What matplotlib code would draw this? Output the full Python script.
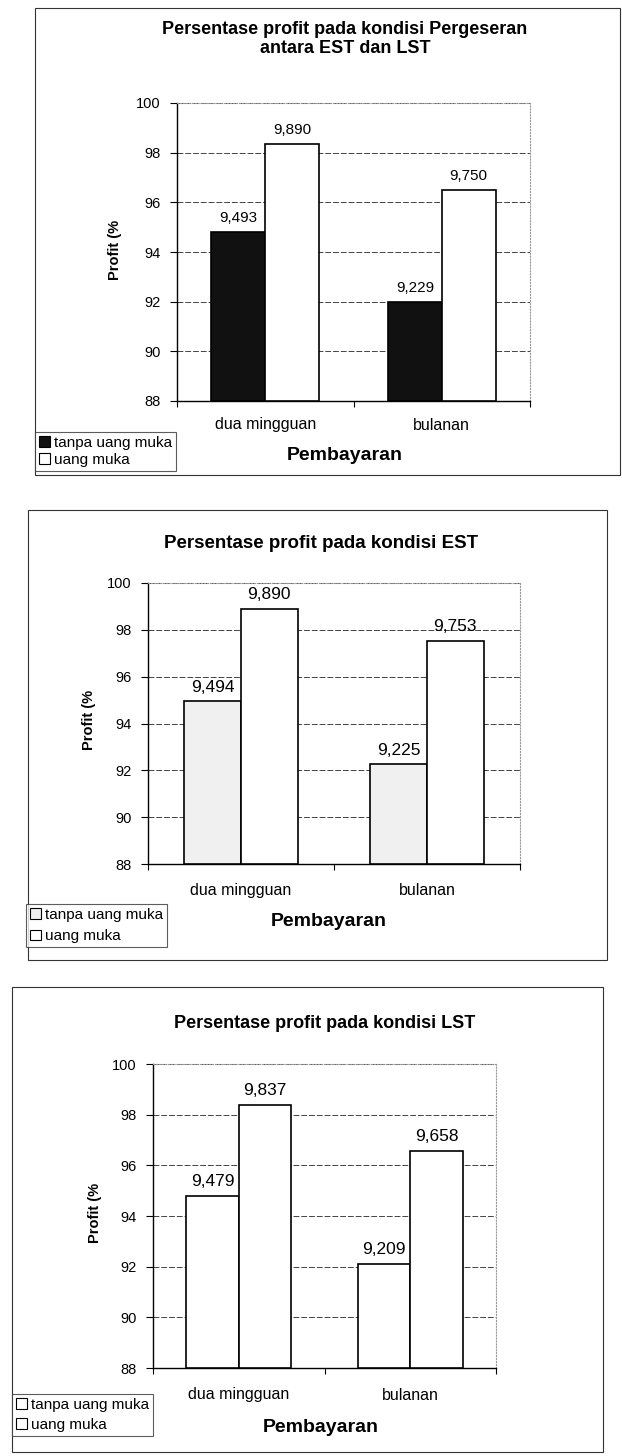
import matplotlib
matplotlib.use('Agg')
import matplotlib.pyplot as plt
from matplotlib.patches import Rectangle, Patch

plt.rcParams['font.family'] = ['Liberation Sans', 'DejaVu Sans']

categories = ['dua mingguan', 'bulanan']
series_names = ['tanpa uang muka', 'uang muka']
yticks = [88, 90, 92, 94, 96, 98, 100]

titles = ['Persentase profit pada kondisi Pergeseran\nantara EST dan LST',
          'Persentase profit pada kondisi EST',
          'Persentase profit pada kondisi LST']

# bar heights (%) read against the axis
pergeseran_tanpa = [94.8, 92.0]
pergeseran_muka = [98.35, 96.5]
est_tanpa = [94.94, 92.25]
est_muka = [98.90, 97.53]
lst_tanpa = [94.79, 92.09]
lst_muka = [98.37, 96.58]

# data labels as printed on the chart
pergeseran_lbl_tanpa = ['9,493', '9,229']
pergeseran_lbl_muka = ['9,890', '9,750']
est_lbl_tanpa = ['9,494', '9,225']
est_lbl_muka = ['9,890', '9,753']
lst_lbl_tanpa = ['9,479', '9,209']
lst_lbl_muka = ['9,837', '9,658']

W, H = 622, 1456


def fbox(x0, y0, x1, y1):
    # pixel box (top-left origin) -> figure fraction
    return [x0 / W, 1 - y1 / H, (x1 - x0) / W, (y1 - y0) / H]


def fx(x):
    return x / W


def fy(y):
    return 1 - y / H


fig = plt.figure(figsize=(W / 100, H / 100), dpi=100)

charts = [
    dict(title=titles[0], a=pergeseran_tanpa, b=pergeseran_muka,
         la=pergeseran_lbl_tanpa, lb=pergeseran_lbl_muka, color_a='#111111',
         frame=(35, 8, 620, 475), axes=(177, 103, 530, 401), title_y=39, title_x=345,
         ylab=(115, 250), cat_y=425, xlab=(345, 455), leg=(35, 432), fs=11, tfs=13,
         lsp=0.2),
    dict(title=titles[1], a=est_tanpa, b=est_muka,
         la=est_lbl_tanpa, lb=est_lbl_muka, color_a='#f0f0f0',
         frame=(28, 510, 607, 960), axes=(148, 583, 520, 864), title_y=543, title_x=321,
         ylab=(89, 720), cat_y=890, xlab=(329, 922), leg=(26, 904), fs=12.5, tfs=13.5,
         lsp=0.5),
    dict(title=titles[2], a=lst_tanpa, b=lst_muka,
         la=lst_lbl_tanpa, lb=lst_lbl_muka, color_a='white',
         frame=(12, 987, 603, 1452), axes=(153, 1064, 496, 1368), title_y=1023, title_x=325,
         ylab=(95, 1213), cat_y=1395, xlab=(321, 1427), leg=(12, 1394), fs=12.5, tfs=13,
         lsp=0.4),
]

x = [0, 1]
bw = 0.305

for c in charts:
    fr = c['frame']
    fig.patches.append(Rectangle((fx(fr[0]), fy(fr[3])), (fr[2] - fr[0]) / W, (fr[3] - fr[1]) / H,
                                 transform=fig.transFigure, fill=False, edgecolor='#333333',
                                 linewidth=0.8, zorder=0))

    ax = fig.add_axes(fbox(*c['axes']))
    ax.set_facecolor('none')
    ax.bar([i - bw / 2 for i in x], [v - 88 for v in c['a']], bw, bottom=88,
           color=c['color_a'], edgecolor='black', linewidth=1.2, zorder=3)
    ax.bar([i + bw / 2 for i in x], [v - 88 for v in c['b']], bw, bottom=88,
           color='white', edgecolor='black', linewidth=1.2, zorder=3)
    for i in x:
        ax.annotate(c['la'][i], (i - bw / 2, c['a'][i]), xytext=(0, 5), textcoords='offset points',
                    ha='center', va='bottom', fontsize=c['fs'], zorder=4)
        ax.annotate(c['lb'][i], (i + bw / 2, c['b'][i]), xytext=(0, 5), textcoords='offset points',
                    ha='center', va='bottom', fontsize=c['fs'], zorder=4)

    ax.set_xlim(-0.5, 1.5)
    ax.set_ylim(88, 100)
    ax.set_yticks(yticks)
    ax.set_yticklabels([str(t) for t in yticks], fontsize=10.5)
    ax.tick_params(axis='y', direction='out', length=5, width=0.8, pad=7)
    ax.set_xticks(x)
    ax.set_xticklabels([])
    ax.tick_params(axis='x', which='major', length=0)
    ax.set_xticks([-0.5, 0.5, 1.5], minor=True)
    ax.tick_params(axis='x', which='minor', direction='out', length=4, width=0.8)
    ax.grid(axis='y', color='#444444', linestyle=(0, (6, 2)), linewidth=0.7, zorder=0)
    ax.set_axisbelow(True)
    for s in ['top', 'right']:
        ax.spines[s].set_color('#999999')
        ax.spines[s].set_linestyle(':')
        ax.spines[s].set_linewidth(0.8)
    ax.spines['left'].set_linewidth(1.0)
    ax.spines['bottom'].set_linewidth(1.0)

    for i, cat in enumerate(categories):
        xpix = c['axes'][0] + (c['axes'][2] - c['axes'][0]) * (i + 0.5) / 2
        fig.text(fx(xpix), fy(c['cat_y']), cat, ha='center', va='center', fontsize=11.5)

    fig.text(fx(c['title_x']), fy(c['title_y']), c['title'], ha='center', va='center',
             fontsize=c['tfs'], fontweight='bold', linespacing=1.1)
    fig.text(fx(c['ylab'][0]), fy(c['ylab'][1]), 'Profit (%', rotation=90, ha='center', va='center',
             fontsize=10.5, fontweight='bold')
    fig.text(fx(c['xlab'][0]), fy(c['xlab'][1]), 'Pembayaran', ha='center', va='center',
             fontsize=14, fontweight='bold')

    handles = [Patch(facecolor=c['color_a'], edgecolor='black', linewidth=0.8),
               Patch(facecolor='white', edgecolor='black', linewidth=0.8)]
    leg = fig.legend(handles, series_names, loc='upper left',
                     bbox_to_anchor=(fx(c['leg'][0]), fy(c['leg'][1])),
                     fontsize=11, frameon=True, fancybox=False, edgecolor='#333333',
                     handlelength=0.7, handleheight=0.7, handletextpad=0.3,
                     borderpad=0.25, labelspacing=c['lsp'], borderaxespad=0)
    leg.get_frame().set_linewidth(0.8)

fig.savefig('out.png', dpi=100)
